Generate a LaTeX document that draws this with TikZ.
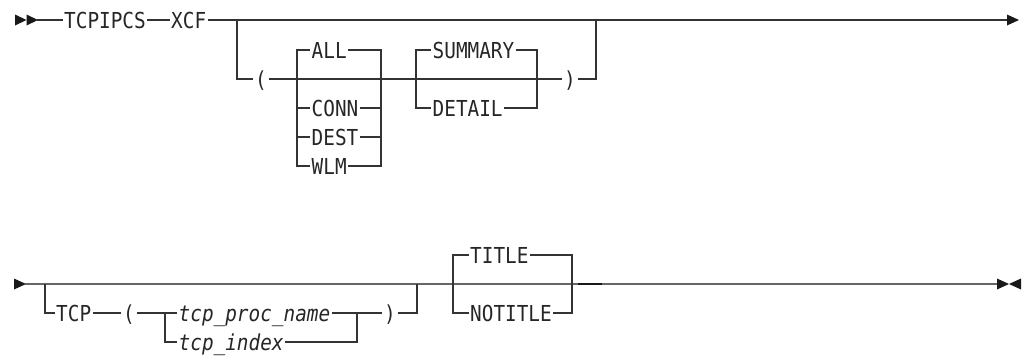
\documentclass[tikz,border=0pt]{standalone}
\usepackage{fontspec}
\setmonofont[FakeStretch=0.88]{DejaVu Sans Mono}
\usetikzlibrary{positioning}

\tikzset{
  kw/.style={font=\ttfamily\fontsize{22}{22}\selectfont, text=black!85,
    inner xsep=1.5pt, inner ysep=0pt, text height=16pt, text depth=0pt},
  var/.style={kw, font=\ttfamily\itshape\fontsize{22}{22}\selectfont},
  rail/.style={black!80, line width=1.3pt},
  tip/.style={fill=black!90}
}

\begin{document}
\begin{tikzpicture}[x=1pt,y=-1pt]
\useasboundingbox (0,0) rectangle (1024,356);
% first row
\fill[tip] (15,14.5) -- (26.5,20) -- (15,25.5) -- cycle;
\fill[tip] (26.5,14.5) -- (38,20) -- (26.5,25.5) -- cycle;
\coordinate (s1) at (37,20);
\node[kw,anchor=west] (tcpipcs) at (62.5,20) {TCPIPCS};
\node[kw,anchor=west] (xcf) at (169.5,20) {XCF};
\coordinate (b1) at (237,20);
\coordinate (j1) at (596,20);
\coordinate (e1) at (1007,20);
\draw[rail] (s1) -- (tcpipcs) (tcpipcs) -- (xcf) (xcf) -- (e1);
\fill[tip] (1007,14.5) -- (1019,20) -- (1007,25.5) -- cycle;
\node[kw] (lp1) at (261,79) {(};
\node[kw] (rp1) at (570,79) {)};
\draw[rail] (b1) |- (lp1) (lp1) -- (rp1) (rp1) -| (j1);
% connection type
\coordinate (g1l) at (297,79);
\coordinate (g1r) at (381,79);
\foreach \n/\t/\y in {all/ALL/50, conn/CONN/108, dest/DEST/137, wlm/WLM/166}{
  \node[kw,anchor=west] (\n) at (310,\y) {\t};
  \draw[rail] (g1l) |- (\n) -| (g1r);
}
% report type
\coordinate (g2l) at (416,79);
\coordinate (g2r) at (537,79);
\foreach \n/\t/\y in {summary/SUMMARY/50, detail/DETAIL/108}{
  \node[kw,anchor=west] (\n) at (431,\y) {\t};
  \draw[rail] (g2l) |- (\n) -| (g2r);
}

% second row
\fill[tip] (14,278.5) -- (26,284) -- (14,289.5) -- cycle;
\coordinate (s2) at (25,284);
\coordinate (e2) at (997,284);
\draw[rail,black!60] (s2) -- (e2);
\fill[tip] (997,278.5) -- (1009,284) -- (997,289.5) -- cycle;
\fill[tip] (1021,278.5) -- (1009,284) -- (1021,289.5) -- cycle;
\coordinate (b2) at (45,284);
\coordinate (j2) at (417,284);
\node[kw,anchor=west] (tcp) at (54.5,313) {TCP};
\node[kw] (lp2) at (129,313) {(};
\coordinate (g3l) at (165,313);
\coordinate (g3r) at (357,313);
\node[var,anchor=west] (tpn) at (177,313) {tcp\_proc\_name};
\node[var,anchor=west] (tix) at (177,342) {tcp\_index};
\node[kw] (rp2) at (390,313) {)};
\draw[rail] (b2) |- (tcp) (tcp) -- (lp2) (lp2) -- (g3l) -- (tpn) (tpn) -- (g3r)
  (g3l) |- (tix) -| (g3r) (g3r) -- (rp2) (rp2) -| (j2);
% title option
\coordinate (g4l) at (453,284);
\coordinate (g4r) at (572,284);
\foreach \n/\t/\y in {title/TITLE/255, notitle/NOTITLE/313}{
  \node[kw,anchor=west] (\n) at (468.5,\y) {\t};
  \draw[rail] (g4l) |- (\n) -| (g4r);
}
\coordinate (d1) at (578,284);
\coordinate (d2) at (602,284);
\draw[black!90,line width=2pt] (d1) -- (d2);
\end{tikzpicture}
\end{document}
